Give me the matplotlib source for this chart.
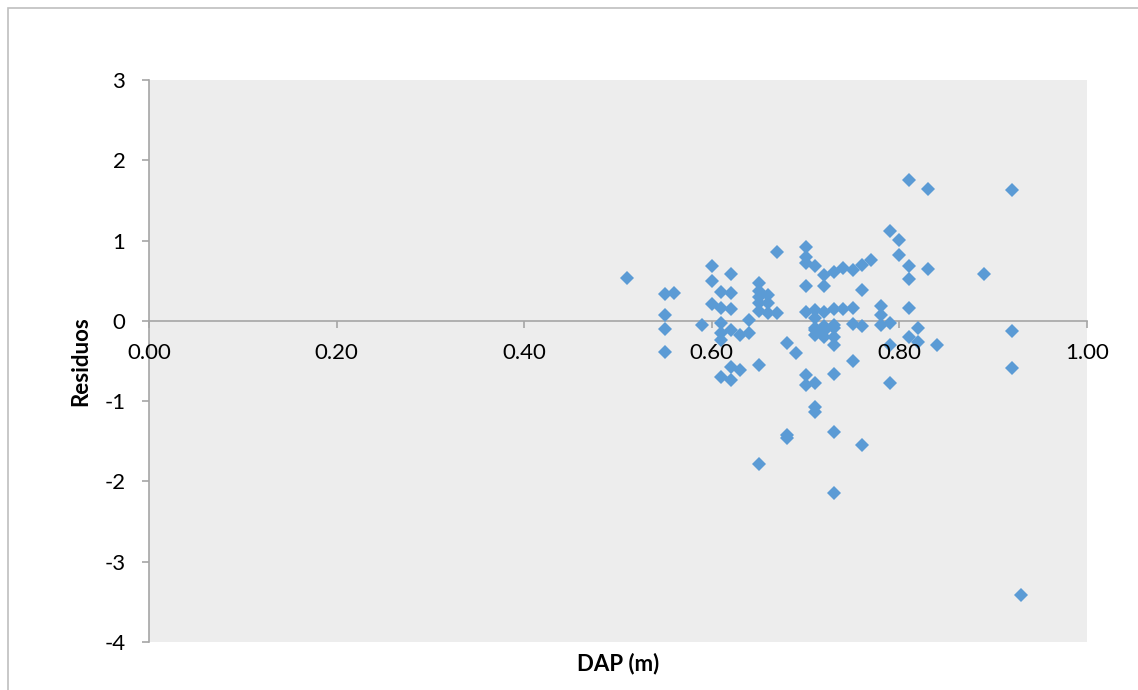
import numpy as np
import matplotlib.pyplot as plt
from matplotlib.patches import Rectangle

# residuals, grouped by DAP value
dap = [0.51,
       0.55, 0.55, 0.55, 0.55,
       0.56,
       0.59,
       0.60, 0.60, 0.60,
       0.61, 0.61, 0.61, 0.61, 0.61, 0.61,
       0.62, 0.62, 0.62, 0.62, 0.62, 0.62,
       0.63, 0.63,
       0.64, 0.64,
       0.65, 0.65, 0.65, 0.65, 0.65, 0.65, 0.65,
       0.66, 0.66, 0.66,
       0.67, 0.67,
       0.68, 0.68, 0.68,
       0.69,
       0.70, 0.70, 0.70, 0.70, 0.70, 0.70, 0.70,
       0.71, 0.71, 0.71, 0.71, 0.71, 0.71, 0.71, 0.71, 0.71,
       0.72, 0.72, 0.72, 0.72, 0.72, 0.72,
       0.73, 0.73, 0.73, 0.73, 0.73, 0.73, 0.73, 0.73, 0.73,
       0.74, 0.74,
       0.75, 0.75, 0.75, 0.75,
       0.76, 0.76, 0.76, 0.76,
       0.77,
       0.78, 0.78, 0.78,
       0.79, 0.79, 0.79, 0.79,
       0.80, 0.80,
       0.81, 0.81, 0.81, 0.81, 0.81,
       0.82, 0.82,
       0.83, 0.83,
       0.84,
       0.89,
       0.92, 0.92, 0.92,
       0.93]
residuos = [0.53,
            0.34, 0.075, -0.10, -0.39,
            0.35,
            -0.05,
            0.68, 0.50, 0.21,
            0.36, 0.16, -0.03, -0.15, -0.24, -0.70,
            0.585, 0.345, 0.145, -0.11, -0.57, -0.735,
            -0.17, -0.61,
            0.01, -0.15,
            0.47, 0.37, 0.30, 0.22, 0.12, -0.55, -1.78,
            0.32, 0.22, 0.095,
            0.86, 0.095,
            -0.27, -1.42, -1.46,
            -0.40,
            0.92, 0.80, 0.72, 0.44, 0.11, -0.67, -0.80,
            0.685, 0.13, 0.03, -0.09, -0.17, -0.78, -1.07, -1.14, -0.12,
            0.57, 0.43, 0.115, -0.07, -0.195, -0.13,
            0.61, 0.15, -0.09, -0.195, -0.30, -0.665, -1.38, -2.15, -0.05,
            0.655, 0.15,
            0.635, 0.16, -0.04, -0.50,
            0.70, 0.39, -0.07, -1.545,
            0.76,
            0.19, 0.075, -0.05,
            1.125, -0.03, -0.30, -0.78,
            1.01, 0.82,
            1.756, 0.685, 0.52, 0.16, -0.195,
            -0.09, -0.26,
            1.644, 0.65,
            -0.30,
            0.585,
            1.63, -0.13, -0.59,
            -3.42]

xticks = [0.0, 0.2, 0.4, 0.6, 0.8, 1.0]
yticks = [-4, -3, -2, -1, 0, 1, 2, 3]

plt.rcParams['font.family'] = ['Lato', 'DejaVu Sans']
plt.rcParams['axes.unicode_minus'] = False

fig = plt.figure(figsize=(11.38, 6.90), dpi=100)
ax = fig.add_axes([149/1138, 1 - 642/690, 938/1138, 562/690])

# chart border like the spreadsheet frame
fig.patches.append(Rectangle((8/1138, -0.05), 1.2, 1 - 8/690 + 0.05,
                             transform=fig.transFigure, fill=False,
                             edgecolor='#bfbfbf', linewidth=1.2))

ax.set_facecolor('#ededed')
ax.plot(dap, residuos, linestyle='none', marker='D', markersize=7.2,
        color='#5b9bd5', markeredgewidth=0, zorder=2)

ax.set_xlim(0, 1.0)
ax.set_ylim(-4, 3)
ax.set_xticks(xticks)
ax.set_xticklabels(['%.2f' % v for v in xticks])
ax.set_yticks(yticks)

# tick labels over the markers, axis line under them
ax.set_axisbelow(False)
for s in ['top', 'right']:
    ax.spines[s].set_visible(False)
ax.spines['bottom'].set_position(('data', 0))
for s in ['bottom', 'left']:
    ax.spines[s].set_color('#a6a6a6')
    ax.spines[s].set_linewidth(1.2)
    ax.spines[s].set_zorder(1.5)

ax.tick_params(axis='x', direction='out', length=5, width=1.2, color='#a6a6a6',
               labelsize=16, pad=11)
ax.tick_params(axis='y', direction='out', length=5, width=1.2, color='#a6a6a6',
               labelsize=16, pad=12)

ax.set_xlabel('DAP (m)', fontsize=16, fontweight='bold')
ax.xaxis.set_label_coords(0.5, -0.039)
ax.xaxis.label.set_va('center')
ax.set_ylabel('Residuos', fontsize=16, fontweight='bold')
ax.yaxis.set_label_coords(-0.0725, 0.5)
ax.yaxis.label.set_va('center')

fig.savefig('out.png', dpi=100)
